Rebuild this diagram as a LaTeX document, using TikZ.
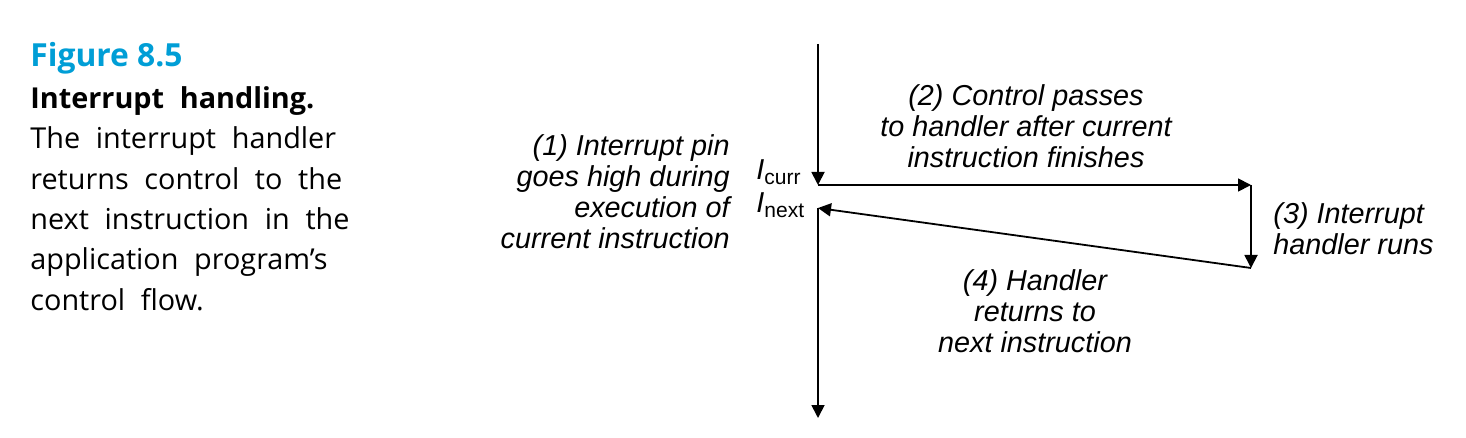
\documentclass[tikz,border=0pt]{standalone}
\usepackage{fontspec}
\setmainfont{Open Sans}[WordSpace=2.1]
\newfontfamily\titlefont{Open Sans}
\newfontfamily\helv{Liberation Sans}
\usetikzlibrary{arrows.meta}
\definecolor{figblue}{RGB}{0,158,214}
\begin{document}
\begin{tikzpicture}[x=0.5pt,y=-0.5pt,
  flow/.style={line width=0.9pt,-{Triangle[length=6.5pt,width=6.5pt]}},
  lbl/.style={inner sep=0pt,font=\helv\itshape\fontsize{14.4}{15.5}\selectfont},
  sub/.style={inner sep=0pt,font=\helv\fontsize{14.4}{15.5}\selectfont},
  capt/.style={inner sep=0pt,align=left,font=\fontsize{14.4}{20.2}\selectfont}]
\useasboundingbox (0,0) rectangle (1466,438);
% caption
\node[capt,anchor=base west,font=\titlefont\bfseries\fontsize{15.9}{20}\selectfont,text=figblue] (title) at (30,67) {Figure 8.5};
\node[capt,anchor=north west] (body) at (30,79.7) {\strut\textbf{Interrupt handling.}\\The interrupt handler\\returns control to the\\next instruction in the\\application program’s\\control flow.};
% flow points
\coordinate (top) at (818,44);
\coordinate (curr) at (818,185);
\coordinate (hc) at (1251,185);
\coordinate (hr) at (1251,268);
\coordinate (nxt) at (818,208);
\coordinate (bot) at (818,418);
\draw[flow] (top) -- (curr);
\draw[flow] (curr) -- (hc);
\draw[flow] (hc) -- (hr);
\draw[flow] (hr) -- (nxt);
\draw[flow] (nxt) -- (bot);
% instruction labels
\node[sub,anchor=base west] (icurr) at (756,180) {\textit{I}\raisebox{-2.5pt}{\fontsize{10.5}{12}\selectfont curr}};
\node[sub,anchor=base west] (inext) at (756,213) {\textit{I}\raisebox{-2.5pt}{\fontsize{10.5}{12}\selectfont next}};
% step labels
\node[lbl,anchor=north east,align=right] (s1) at (730,133.3) {\strut(1) Interrupt pin\\goes high during\\execution of\\current instruction};
\node[lbl,anchor=north,align=center] (s2) at (1026,83.3) {\strut(2) Control passes\\to handler after current\\instruction finishes};
\node[lbl,anchor=north west,align=left] (s3) at (1273,201.3) {\strut(3) Interrupt\\handler runs};
\node[lbl,anchor=north,align=center] (s4) at (1035,268.3) {\strut(4) Handler\\returns to\\next instruction};
\end{tikzpicture}
\end{document}
